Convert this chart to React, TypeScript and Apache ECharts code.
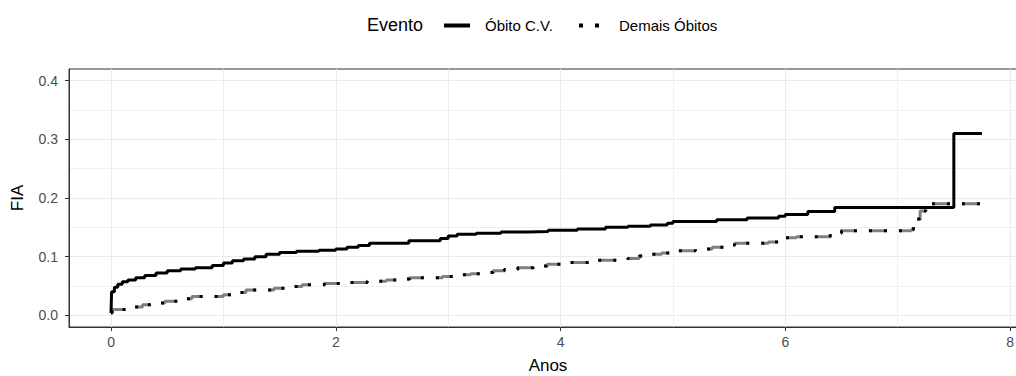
import React, { useEffect, useRef } from "react";
import * as echarts from "echarts";

// ---- Data ----
const cvTimes = [0, 0.005, 0.03, 0.06, 0.1, 0.15, 0.22, 0.3, 0.4, 0.5, 0.62, 0.75, 0.9, 1.0, 1.08, 1.18, 1.28, 1.38, 1.5, 1.65, 1.85, 2.0, 2.1, 2.2, 2.3, 2.65, 2.93, 3.0, 3.08, 3.25, 3.47, 3.7, 3.89, 4.15, 4.4, 4.6, 4.8, 4.95, 5.0, 5.39, 5.66, 5.94, 6.0, 6.2, 6.44, 7.5, 7.75];
const cvValues = [0.004, 0.04, 0.048, 0.053, 0.057, 0.06, 0.064, 0.068, 0.072, 0.076, 0.079, 0.081, 0.085, 0.089, 0.093, 0.096, 0.1, 0.104, 0.107, 0.109, 0.111, 0.113, 0.116, 0.119, 0.123, 0.127, 0.131, 0.135, 0.138, 0.14, 0.142, 0.143, 0.145, 0.147, 0.15, 0.152, 0.154, 0.157, 0.16, 0.163, 0.166, 0.169, 0.172, 0.177, 0.184, 0.31, 0.31];

const otherTimes = [0, 0.01, 0.2, 0.28, 0.38, 0.48, 0.6, 0.72, 1.0, 1.1, 1.2, 1.45, 1.62, 1.7, 1.9, 2.1, 2.28, 2.45, 2.6, 2.66, 2.95, 3.08, 3.2, 3.3, 3.4, 3.5, 3.62, 3.76, 3.88, 4.0, 4.25, 4.6, 4.7, 4.78, 4.9, 5.05, 5.2, 5.35, 5.45, 5.55, 5.85, 5.95, 6.0, 6.1, 6.4, 6.5, 7.12, 7.14, 7.2, 7.25, 7.3, 7.75];
const otherValues = [0.004, 0.01, 0.014, 0.018, 0.021, 0.024, 0.028, 0.032, 0.035, 0.039, 0.043, 0.046, 0.049, 0.052, 0.054, 0.056, 0.058, 0.06, 0.062, 0.064, 0.066, 0.069, 0.071, 0.073, 0.076, 0.078, 0.081, 0.084, 0.087, 0.09, 0.094, 0.097, 0.101, 0.104, 0.106, 0.11, 0.113, 0.116, 0.12, 0.123, 0.125, 0.129, 0.132, 0.134, 0.14, 0.144, 0.146, 0.164, 0.178, 0.186, 0.19, 0.19];

const seriesNames = ["Óbito C.V.", "Demais Óbitos"];
const legendTitle = "Evento";
const xTitle = "Anos";
const yTitle = "FIA";

const xMajor = [0, 2, 4, 6, 8];
const xMinor = [1, 3, 5, 7];
const yMajor = [0, 0.1, 0.2, 0.3, 0.4];
const yMinor = [0.05, 0.15, 0.25, 0.35];

const X_MIN = -0.374;
const X_MAX = 8.151;
const Y_MIN = -0.02;
const Y_MAX = 0.42;

const FONT = "'Liberation Sans', Arial, sans-serif";

function zip(a: number[], b: number[]) {
  return a.map((t, i) => [t, b[i]]);
}

export default function App() {
  const ref = useRef<HTMLDivElement>(null);

  useEffect(() => {
    if (!ref.current) return;
    const chart = echarts.init(ref.current, undefined, { renderer: "svg" });

    const gridLine = { color: "#EBEBEB", width: 1 };
    const minorLine = { color: "#EBEBEB", width: 0.8 };

    const xBase = {
      type: "value" as const,
      min: X_MIN,
      max: X_MAX,
      gridIndex: 0,
      position: "bottom" as const,
    };
    const yBase = {
      type: "value" as const,
      min: Y_MIN,
      max: Y_MAX,
      gridIndex: 0,
      position: "left" as const,
    };

    const legendText = {
      fontSize: 15,
      color: "#000000",
      fontFamily: FONT,
    };

    chart.setOption({
      animation: false,
      backgroundColor: "#FFFFFF",
      textStyle: { fontFamily: FONT },
      grid: {
        left: 69,
        top: 69,
        right: -11,
        bottom: 49,
        show: true,
        borderColor: "#333333",
        borderWidth: 1,
        backgroundColor: "transparent",
        containLabel: false,
        outerBoundsMode: "none",
      },
      graphic: [
        {
          type: "text",
          left: 367,
          top: 16,
          style: {
            text: legendTitle,
            fontSize: 18,
            fontFamily: FONT,
            fill: "#000000",
          },
        },
      ],
      legend: [
        {
          left: 437,
          top: 13,
          itemWidth: 26,
          itemHeight: 14,
          data: [seriesNames[0]],
          itemStyle: { opacity: 0 },
          lineStyle: { width: 4, color: "#000000" },
          textStyle: { ...legendText, padding: [0, 0, 0, 10] },
        },
        {
          left: 572,
          top: 13,
          itemWidth: 20,
          itemHeight: 14,
          data: [seriesNames[1]],
          itemStyle: { opacity: 0 },
          lineStyle: { width: 4, color: "#000000", type: [4, 12], dashOffset: 0 },
          textStyle: { ...legendText, padding: [0, 0, 0, 15] },
        },
      ],
      xAxis: [
        {
          ...xBase,
          name: xTitle,
          nameLocation: "middle",
          nameGap: 30,
          nameTextStyle: { fontSize: 17, color: "#000000", fontFamily: FONT },
          axisLine: { show: true, onZero: false, lineStyle: { color: "#333333", width: 1 } },
          axisTick: { show: true, length: 4, customValues: xMajor, lineStyle: { color: "#333333" } },
          axisLabel: {
            customValues: xMajor,
            color: "#4D4D4D",
            fontSize: 14,
            margin: 8,
            fontFamily: FONT,
            formatter: (v: number) => String(v),
          },
          splitLine: { show: true, lineStyle: gridLine },
        },
        {
          ...xBase,
          axisLine: { show: false },
          axisTick: { show: false, customValues: xMinor },
          axisLabel: { show: false, customValues: xMinor },
          splitLine: { show: true, lineStyle: minorLine },
        },
      ],
      yAxis: [
        {
          ...yBase,
          name: yTitle,
          nameLocation: "middle",
          nameGap: 43,
          nameTextStyle: { fontSize: 17, color: "#000000", fontFamily: FONT },
          axisLine: { show: true, onZero: false, lineStyle: { color: "#333333", width: 1 } },
          axisTick: { show: true, length: 4, customValues: yMajor, lineStyle: { color: "#333333" } },
          axisLabel: {
            customValues: yMajor,
            color: "#4D4D4D",
            fontSize: 14,
            margin: 11,
            fontFamily: FONT,
            formatter: (v: number) => v.toFixed(1),
          },
          splitLine: { show: true, lineStyle: gridLine },
        },
        {
          ...yBase,
          axisLine: { show: false },
          axisTick: { show: false, customValues: yMinor },
          axisLabel: { show: false, customValues: yMinor },
          splitLine: { show: true, lineStyle: minorLine },
        },
      ],
      series: [
        {
          name: seriesNames[0],
          type: "line",
          step: "end",
          xAxisIndex: 0,
          yAxisIndex: 0,
          data: zip(cvTimes, cvValues),
          symbol: "none",
          lineStyle: { color: "#000000", width: 3 },
          itemStyle: { color: "#000000" },
          z: 4,
        },
        {
          name: "__gray",
          type: "line",
          step: "end",
          xAxisIndex: 0,
          yAxisIndex: 0,
          data: zip(otherTimes, otherValues),
          symbol: "none",
          lineStyle: { color: "#808080", width: 3, type: [18, 12] },
          itemStyle: { color: "#808080" },
          z: 3,
        },
        {
          name: seriesNames[1],
          type: "line",
          step: "end",
          xAxisIndex: 0,
          yAxisIndex: 0,
          data: zip(otherTimes, otherValues),
          symbol: "none",
          lineStyle: { color: "#000000", width: 3, type: [3, 12, 3, 12] },
          itemStyle: { color: "#000000" },
          z: 5,
        },
      ],
    });

    return () => {
      chart.dispose();
    };
  }, []);

  return (
    <div
      ref={ref}
      style={{ position: "fixed", left: 0, top: 0, width: 1016, height: 376 }}
    />
  );
}
